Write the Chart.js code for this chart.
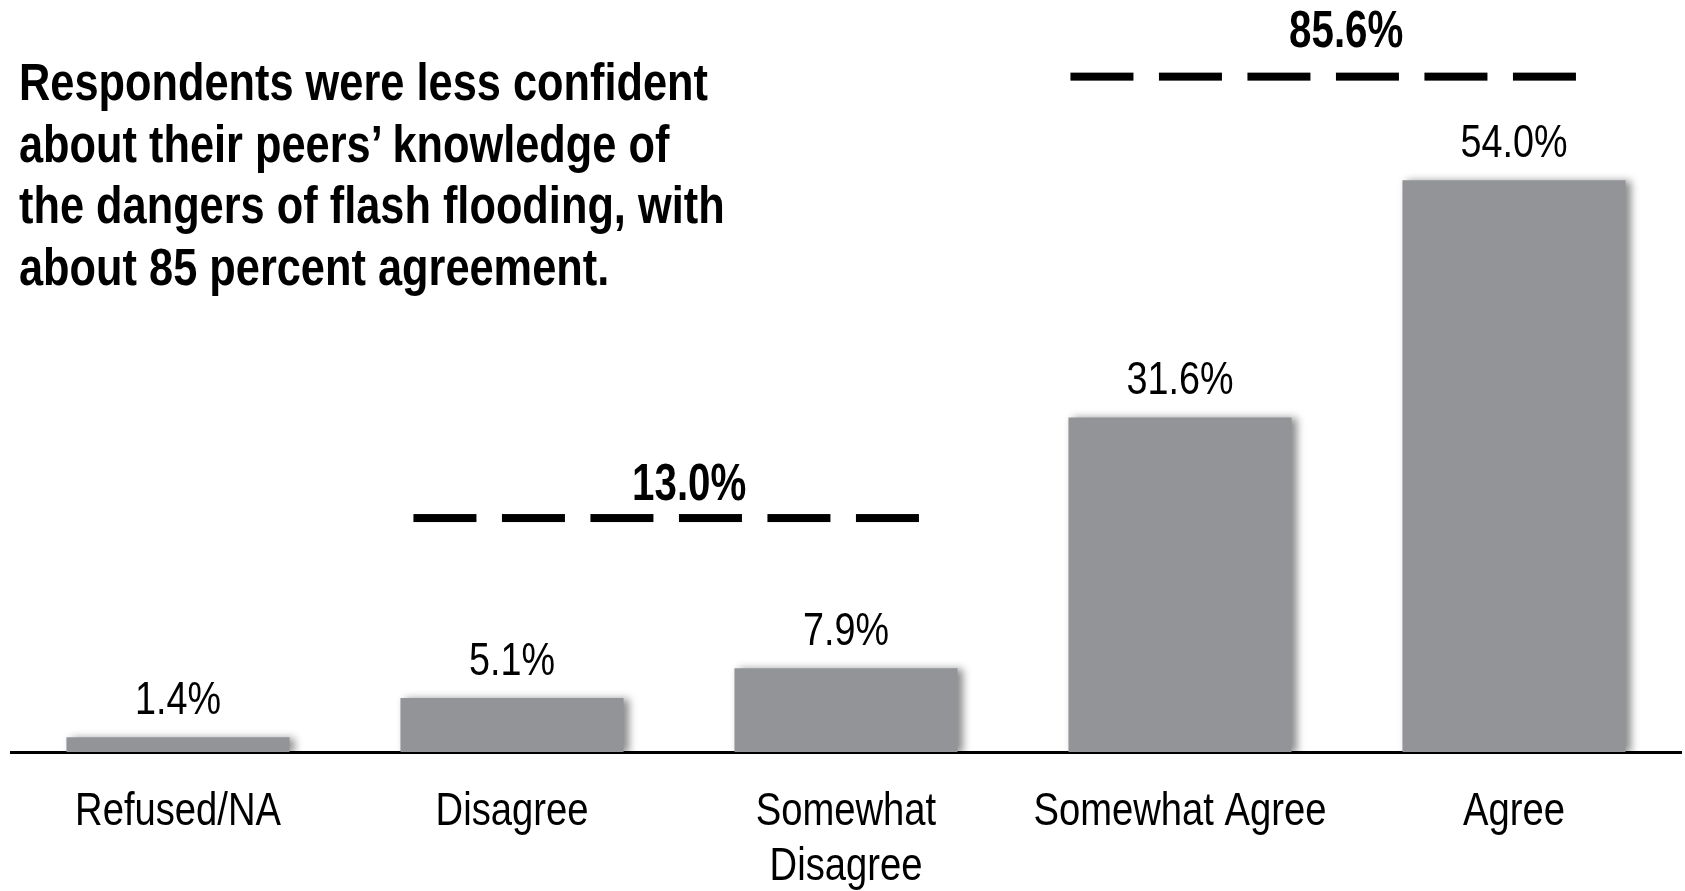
<!DOCTYPE html>
<html>
<head>
<meta charset="utf-8">
<script src="https://cdn.jsdelivr.net/npm/chart.js@4.4.1/dist/chart.umd.min.js"></script>
<style>
  html, body { margin: 0; padding: 0; background: #fff; }
  #wrap { position: relative; width: 1685px; height: 891px; }
  #title {
    position: absolute; left: 19px; top: 52px;
    font-family: 'Liberation Sans', Arial, sans-serif;
    font-weight: bold; font-size: 51px; line-height: 61.5px; color: #000;
    white-space: pre;
    transform: scaleX(0.85); transform-origin: 0 0;
  }
</style>
</head>
<body>
<div id="wrap">
  <canvas id="myChart" width="1685" height="891"></canvas>
  <div id="title">Respondents were less confident
about their peers’ knowledge of
the dangers of flash flooding, with
about 85 percent agreement.</div>
</div>
<script>
'use strict';

let categories = ['Refused/NA', 'Disagree', ['Somewhat', 'Disagree'], 'Somewhat Agree', 'Agree'];
let percents = [1.4, 5.1, 7.9, 31.6, 54.0];
let valueLabels = ['1.4%', '5.1%', '7.9%', '31.6%', '54.0%'];

// grouped totals shown above dashed lines
let groupLabels = ['13.0%', '85.6%'];
let groupFrom = [1, 3];
let groupLevels = [22.1, 63.8];

let fontFam = "'Liberation Sans', Arial, sans-serif";

// no narrow font installed, so squeeze Liberation Sans horizontally
function narrowText(ctx, text, x, y, sx) {
  ctx.save();
  ctx.translate(x, y);
  ctx.scale(sx, 1);
  ctx.fillText(text, 0, 0);
  ctx.restore();
}

let shadowPlugin = {
  id: 'barShadow',
  beforeDatasetsDraw(chart) {
    let ctx = chart.ctx;
    ctx.save();
    ctx.shadowColor = 'rgba(0,0,0,0.45)';
    ctx.shadowBlur = 8;
    ctx.shadowOffsetX = 5;
    ctx.shadowOffsetY = 1;
  },
  afterDatasetsDraw(chart) {
    chart.ctx.restore();
  }
};

let valuePlugin = {
  id: 'valueLabels',
  afterDatasetsDraw(chart) {
    let ctx = chart.ctx;
    let meta = chart.getDatasetMeta(0);
    ctx.save();
    ctx.font = '46px ' + fontFam;
    ctx.fillStyle = '#000';
    ctx.textAlign = 'center';
    ctx.textBaseline = 'alphabetic';
    for (let i = 0; i < meta.data.length; i++) {
      let bar = meta.data[i];
      narrowText(ctx, valueLabels[i], bar.x, bar.y - 23, 0.82);
    }
    ctx.restore();
  }
};

let tickPlugin = {
  id: 'narrowTicks',
  afterDraw(chart) {
    let ctx = chart.ctx;
    let xScale = chart.scales.x;
    ctx.save();
    ctx.font = '46px ' + fontFam;
    ctx.fillStyle = '#000';
    ctx.textAlign = 'center';
    ctx.textBaseline = 'alphabetic';
    for (let i = 0; i < categories.length; i++) {
      let x = xScale.getPixelForTick(i);
      let lines = [].concat(categories[i]);
      for (let l = 0; l < lines.length; l++) {
        narrowText(ctx, lines[l], x, xScale.top + 73 + l * 55, 0.83);
      }
    }
    ctx.restore();
  }
};

let groupPlugin = {
  id: 'groupLines',
  afterDraw(chart, args, opts) {
    let ctx = chart.ctx;
    let meta = chart.getDatasetMeta(0);
    let yScale = chart.scales.y;
    ctx.save();
    for (let g = 0; g < groupLabels.length; g++) {
      let first = meta.data[groupFrom[g]];
      let x0 = first.x - first.width / 2 + opts.startOffset[g];
      let y = yScale.getPixelForValue(groupLevels[g]);
      ctx.fillStyle = '#000';
      for (let d = 0; d < opts.dashCount; d++) {
        let dx = x0 + d * (opts.dash + opts.gap);
        ctx.fillRect(dx, y - opts.thickness / 2, opts.dash, opts.thickness);
      }
      let total = opts.dashCount * opts.dash + (opts.dashCount - 1) * opts.gap;
      ctx.font = 'bold 51px ' + fontFam;
      ctx.textAlign = 'center';
      ctx.textBaseline = 'alphabetic';
      narrowText(ctx, groupLabels[g], x0 + total / 2 + 23, y - opts.labelLift[g], 0.79);
    }
    ctx.restore();
  }
};

let ctx = document.getElementById('myChart').getContext('2d');
let myChart = new Chart(ctx, {
  type: 'bar',
  data: {
    labels: categories,
    datasets: [{
      data: percents,
      backgroundColor: '#939498',
      borderWidth: 0,
      categoryPercentage: 1,
      barPercentage: 0.668
    }]
  },
  options: {
    responsive: false,
    animation: false,
    events: [],
    layout: { padding: { left: 11, right: 4, top: 11, bottom: 0 } },
    plugins: {
      legend: { display: false },
      tooltip: { enabled: false },
      groupLines: {
        dashCount: 6, dash: 63, gap: 25.5, thickness: 8,
        startOffset: [13, 2],
        labelLift: [18, 30]
      }
    },
    scales: {
      x: {
        grid: { display: false, drawTicks: false },
        border: { display: true, color: '#000', width: 3 },
        ticks: { display: false },
        afterFit(scale) { scale.height = 139; }
      },
      y: {
        display: false,
        min: 0,
        max: 70
      }
    }
  },
  plugins: [shadowPlugin, valuePlugin, tickPlugin, groupPlugin]
});
</script>
</body>
</html>
